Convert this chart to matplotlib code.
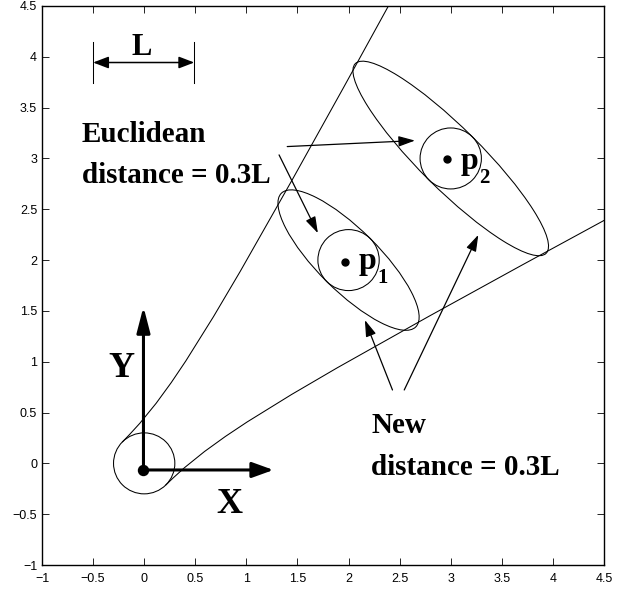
import matplotlib
matplotlib.use("Agg")
import matplotlib.pyplot as plt
from matplotlib.patches import Circle, Ellipse, ArrowStyle

# ---------------- data ----------------
tick_vals = [-1, -0.5, 0, 0.5, 1, 1.5, 2, 2.5, 3, 3.5, 4, 4.5]
tick_labels = ['\u22121', '\u22120.5', '0', '0.5', '1', '1.5', '2', '2.5',
               '3', '3.5', '4', '4.5']

upper_x = [-0.212, -0.143, -0.042, 0.117, 0.265, 0.407, 0.678, 0.940, 1.450, 1.954, 2.454]
upper_y = [0.212, 0.284, 0.395, 0.591, 0.795, 1.007, 1.443, 1.889, 2.792, 3.703, 4.617]
lower_x = [0.212, 0.284, 0.395, 0.591, 0.795, 1.007, 1.443, 1.889, 2.792, 3.703, 4.617]
lower_y = [-0.212, -0.143, -0.042, 0.117, 0.265, 0.407, 0.678, 0.940, 1.450, 1.954, 2.454]

circle_centers = [(0.0, 0.0), (2.0, 2.0), (3.0, 3.0)]
circle_radius = 0.3

ellipse_centers = [(2.0, 2.0), (3.0, 3.0)]
ellipse_widths = [1.86, 2.64]
ellipse_heights = [0.6, 0.6]
ellipse_angles = [-45, -45]

origin_dot = (-0.007, -0.065)
point_dots = [(1.965, 1.985), (2.965, 2.993)]
point_names = ['1', '2']
point_label_pos = [(2.100, 1.91), (3.095, 2.895)]
point_sub_pos = [(2.285, 1.773), (3.282, 2.757)]

x_arrow_end = (1.265, -0.065)
y_arrow_end = (-0.007, 1.542)

L_left, L_right, L_y = -0.5, 0.49, 3.944
L_bar_lo, L_bar_hi = 3.74, 4.15

euclid_arrows = [((1.40, 3.117), (2.65, 3.176)), ((1.32, 3.035), (1.70, 2.265))]
new_arrows = [((2.43, 0.722), (2.16, 1.41)), ((2.545, 0.722), (3.27, 2.248))]

# ---------------- figure ----------------
fig = plt.figure(figsize=(6.23, 5.92), dpi=100)
ax = fig.add_axes([42 / 623, 27 / 592, 562 / 623, 559 / 592])
ax.set_xlim(-1, 4.5)
ax.set_ylim(-1, 4.5)

serif = dict(family='Liberation Serif', weight='bold', color='black')
lw_thin = 0.75

ax.plot(upper_x, upper_y, color='black', lw=lw_thin)
ax.plot(lower_x, lower_y, color='black', lw=lw_thin)

for c in circle_centers:
    ax.add_patch(Circle(c, circle_radius, fill=False, ec='black', lw=lw_thin))
for c, w, h, a in zip(ellipse_centers, ellipse_widths, ellipse_heights, ellipse_angles):
    ax.add_patch(Ellipse(c, w, h, angle=a, fill=False, ec='black', lw=lw_thin))

ax.plot([origin_dot[0]], [origin_dot[1]], 'o', color='black', ms=7.2)
for (px, py) in point_dots:
    ax.plot([px], [py], 'o', color='black', ms=5)


def arrow(start, end, lw, hl, hw, style='-|>'):
    ax.annotate('', xy=end, xytext=start,
                arrowprops=dict(arrowstyle=ArrowStyle(style, head_length=hl, head_width=hw),
                                mutation_scale=1, lw=lw, color='black',
                                shrinkA=0, shrinkB=0))


# coordinate axes arrows
arrow(origin_dot, x_arrow_end, 2.2, 13, 4.7)
arrow(origin_dot, y_arrow_end, 2.2, 15.5, 4.0)

# L scale
arrow((L_left, L_y), (L_right, L_y), 1.1, 9.4, 3.6, style='<|-|>')
ax.plot([L_left, L_left], [L_bar_lo, L_bar_hi], color='black', lw=lw_thin)
ax.plot([L_right, L_right], [L_bar_lo, L_bar_hi], color='black', lw=lw_thin)

for s, e in euclid_arrows + new_arrows:
    arrow(s, e, 0.9, 10, 3.2)

# texts
ax.text(-0.026, 4.02, 'L', ha='center', va='baseline', fontsize=22, **serif)
ax.text(-0.609, 3.166, 'Euclidean', ha='left', va='baseline', fontsize=21, **serif)
ax.text(-0.609, 2.763, 'distance = 0.3L', ha='left', va='baseline', fontsize=21, **serif)
ax.text(2.22, 0.296, 'New', ha='left', va='baseline', fontsize=21, **serif)
ax.text(2.22, -0.114, 'distance = 0.3L', ha='left', va='baseline', fontsize=21, **serif)
ax.text(-0.22, 0.847, 'Y', ha='center', va='baseline', fontsize=26, **serif)
ax.text(0.83, -0.485, 'X', ha='center', va='baseline', fontsize=26, **serif)
for (lx, ly), (sx, sy), n in zip(point_label_pos, point_sub_pos, point_names):
    ax.text(lx, ly, 'p', ha='left', va='baseline', fontsize=23, **serif)
    ax.text(sx, sy, n, ha='left', va='baseline', fontsize=15, **serif)

# axes styling
ax.set_xticks(tick_vals)
ax.set_xticklabels(tick_labels)
ax.set_yticks(tick_vals)
ax.set_yticklabels(tick_labels)
ax.tick_params(direction='in', length=5, width=0.6, top=True, right=True,
               labelsize=9)
ax.tick_params(axis='x', pad=6)
ax.tick_params(axis='y', pad=3.5)
for lab in ax.get_xticklabels() + ax.get_yticklabels():
    lab.set_family('Liberation Sans')
for sp in ax.spines.values():
    sp.set_linewidth(1.0)

fig.savefig('out.png', dpi=100)
